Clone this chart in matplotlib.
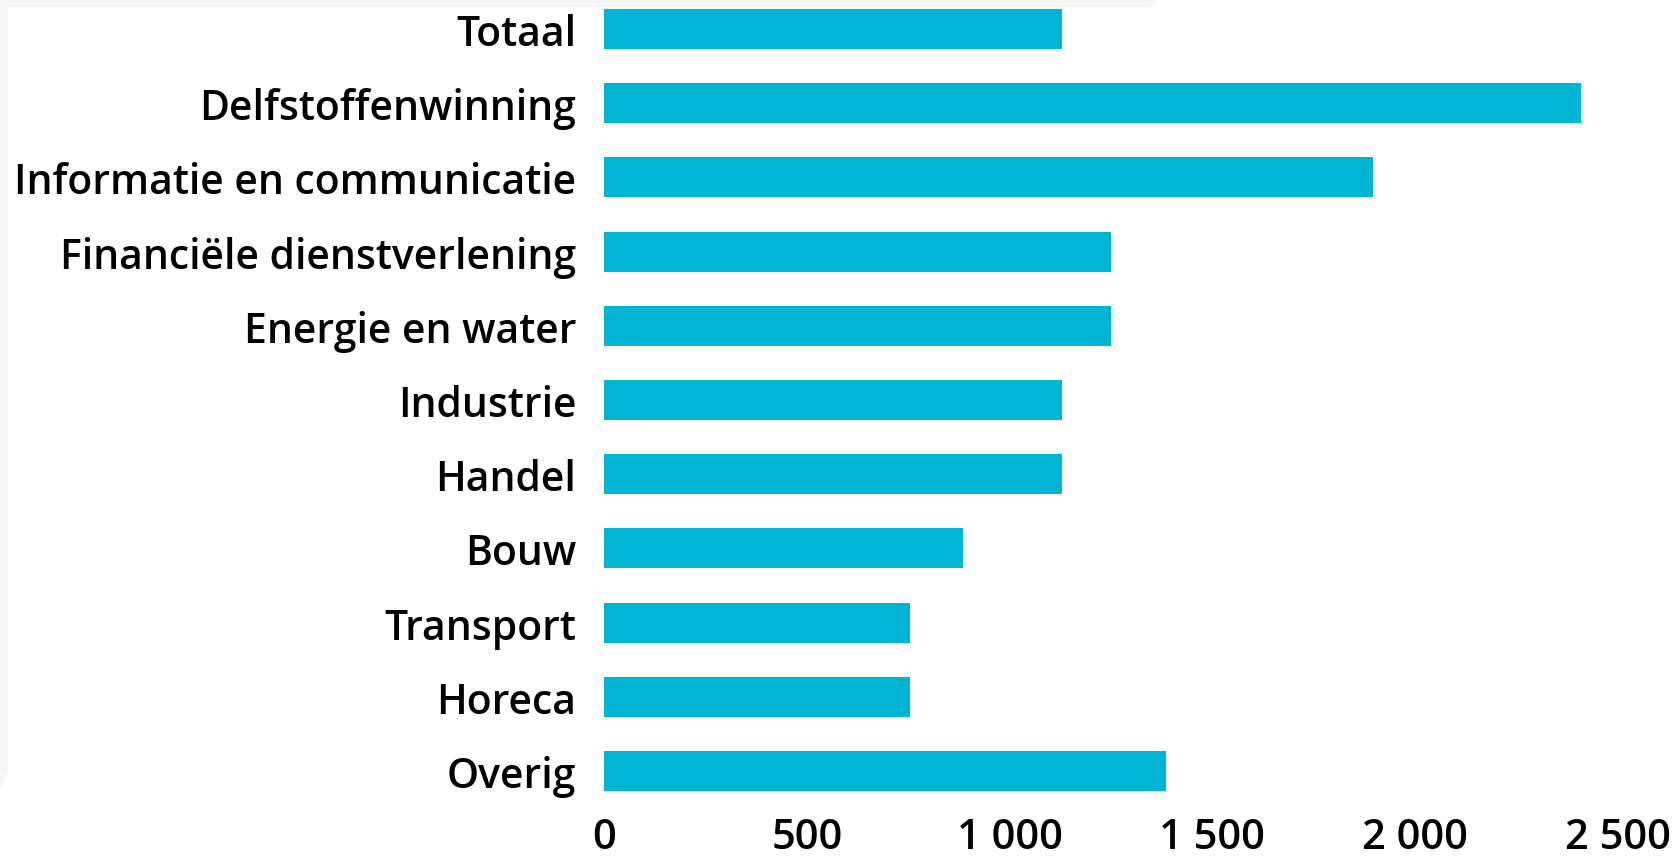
import matplotlib.pyplot as plt
from matplotlib.patches import Polygon
from matplotlib.ticker import FuncFormatter

# sector labels, top to bottom
sectors = ['Totaal', 'Delfstoffenwinning', 'Informatie en communicatie',
           'Financiële dienstverlening', 'Energie en water', 'Industrie',
           'Handel', 'Bouw', 'Transport', 'Horeca', 'Overig']
values = [1130, 2410, 1895, 1250, 1250, 1130, 1130, 885, 755, 755, 1385]
xticks = [0, 500, 1000, 1500, 2000, 2500]

bar_color = '#00b5d3'

plt.rcParams['font.family'] = ['Open Sans', 'DejaVu Sans']

W, H = 1675, 862
fig = plt.figure(figsize=(W / 100, H / 100), dpi=100)
fig.patch.set_facecolor('white')

# faint background shape at the top/left edges
fig.patches.append(Polygon([(0, 1), (1160 / W, 1), (1150 / W, 1 - 8 / H),
                            (8 / W, 1 - 8 / H), (8 / W, 1 - 770 / H),
                            (0, 1 - 790 / H)],
                           closed=True, transform=fig.transFigure,
                           facecolor='#f6f6f6', edgecolor='none', zorder=0))

left, right = 604, 1618
top, bottom = 0, 800
ax = fig.add_axes([left / W, 1 - bottom / H, (right - left) / W, (bottom - top) / H])
ax.patch.set_alpha(0)

y = list(range(len(sectors)))
ax.barh(y, values, height=0.54, color=bar_color)

spacing = 74.2
ax.set_ylim((bottom - 30) / spacing, -30 / spacing)
ax.set_xlim(0, 2500)

ax.set_yticks(y)
ax.set_yticklabels(sectors)
ax.set_xticks(xticks)
ax.xaxis.set_major_formatter(FuncFormatter(lambda v, p: f'{int(v):,}'.replace(',', ' ')))

ax.tick_params(axis='y', length=0, pad=20, labelsize=29.4)
ax.tick_params(axis='x', length=0, pad=12, labelsize=30)
for lab in ax.get_yticklabels() + ax.get_xticklabels():
    lab.set_fontweight('semibold')

for s in ax.spines.values():
    s.set_visible(False)

fig.savefig('out.png', dpi=100)
